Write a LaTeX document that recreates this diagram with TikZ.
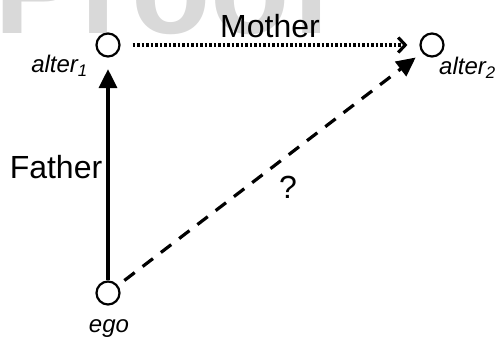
\documentclass[tikz,border=0pt]{standalone}
\usepackage{fontspec}
\setmainfont{Liberation Sans}
\usetikzlibrary{arrows.meta}

\begin{document}
\begin{tikzpicture}[x=1pt, y=-1pt,
  person/.style={draw, circle, line width=2.2pt, minimum size=23pt, inner sep=0pt},
  tie/.style={line width=3.2pt},
  role/.style={font=\fontsize{32}{36}\selectfont},
  who/.style={font=\fontsize{24}{27}\selectfont\itshape},
  fill tip/.style={-{Triangle[length=19pt, width=18pt]}},
  open tip/.style={-{Straight Barb[length=7pt, width=15pt]}}]
  \useasboundingbox (0, 0) rectangle (497, 339);
  \clip (0, 0) rectangle (497, 339);

  % Watermark
  \node[anchor=base west, inner sep=0pt, text=gray!30,
        font=\fontsize{130}{130}\selectfont\bfseries] (proof) at (-6, 34) {Proof};

  % People
  \node[person] (alter1) at (108, 45) {};
  \node[person] (alter2) at (432, 45) {};
  \node[person] (ego) at (108, 293) {};

  % Names
  \node[who, anchor=base east, inner sep=0pt] (alter1lab) at (88, 73) {alter\textsubscript{1}};
  \node[who, anchor=base west, inner sep=0pt] (alter2lab) at (439, 75) {alter\textsubscript{2}};
  \node[who, anchor=base, inner sep=0pt] (egolab) at (109, 332) {ego};

  % Ties
  \draw[tie, fill tip, shorten >=11.5pt] (ego) -- (alter1);
  \draw[tie, open tip, dash pattern=on 2.5pt off 2pt,
        shorten <=12pt, shorten >=12pt] (alter1) -- (alter2);
  \draw[tie, fill tip, dash pattern=on 13pt off 10pt,
        shorten <=8pt, shorten >=8pt] (ego) -- (alter2);

  % Tie labels
  \node[role, anchor=base, inner sep=0pt] (mother) at (270, 38) {Mother};
  \node[role, anchor=base, inner sep=0pt] (father) at (56, 178) {Father};
  \node[role, anchor=base, inner sep=0pt] (unknown) at (288, 198) {?};
\end{tikzpicture}
\end{document}
